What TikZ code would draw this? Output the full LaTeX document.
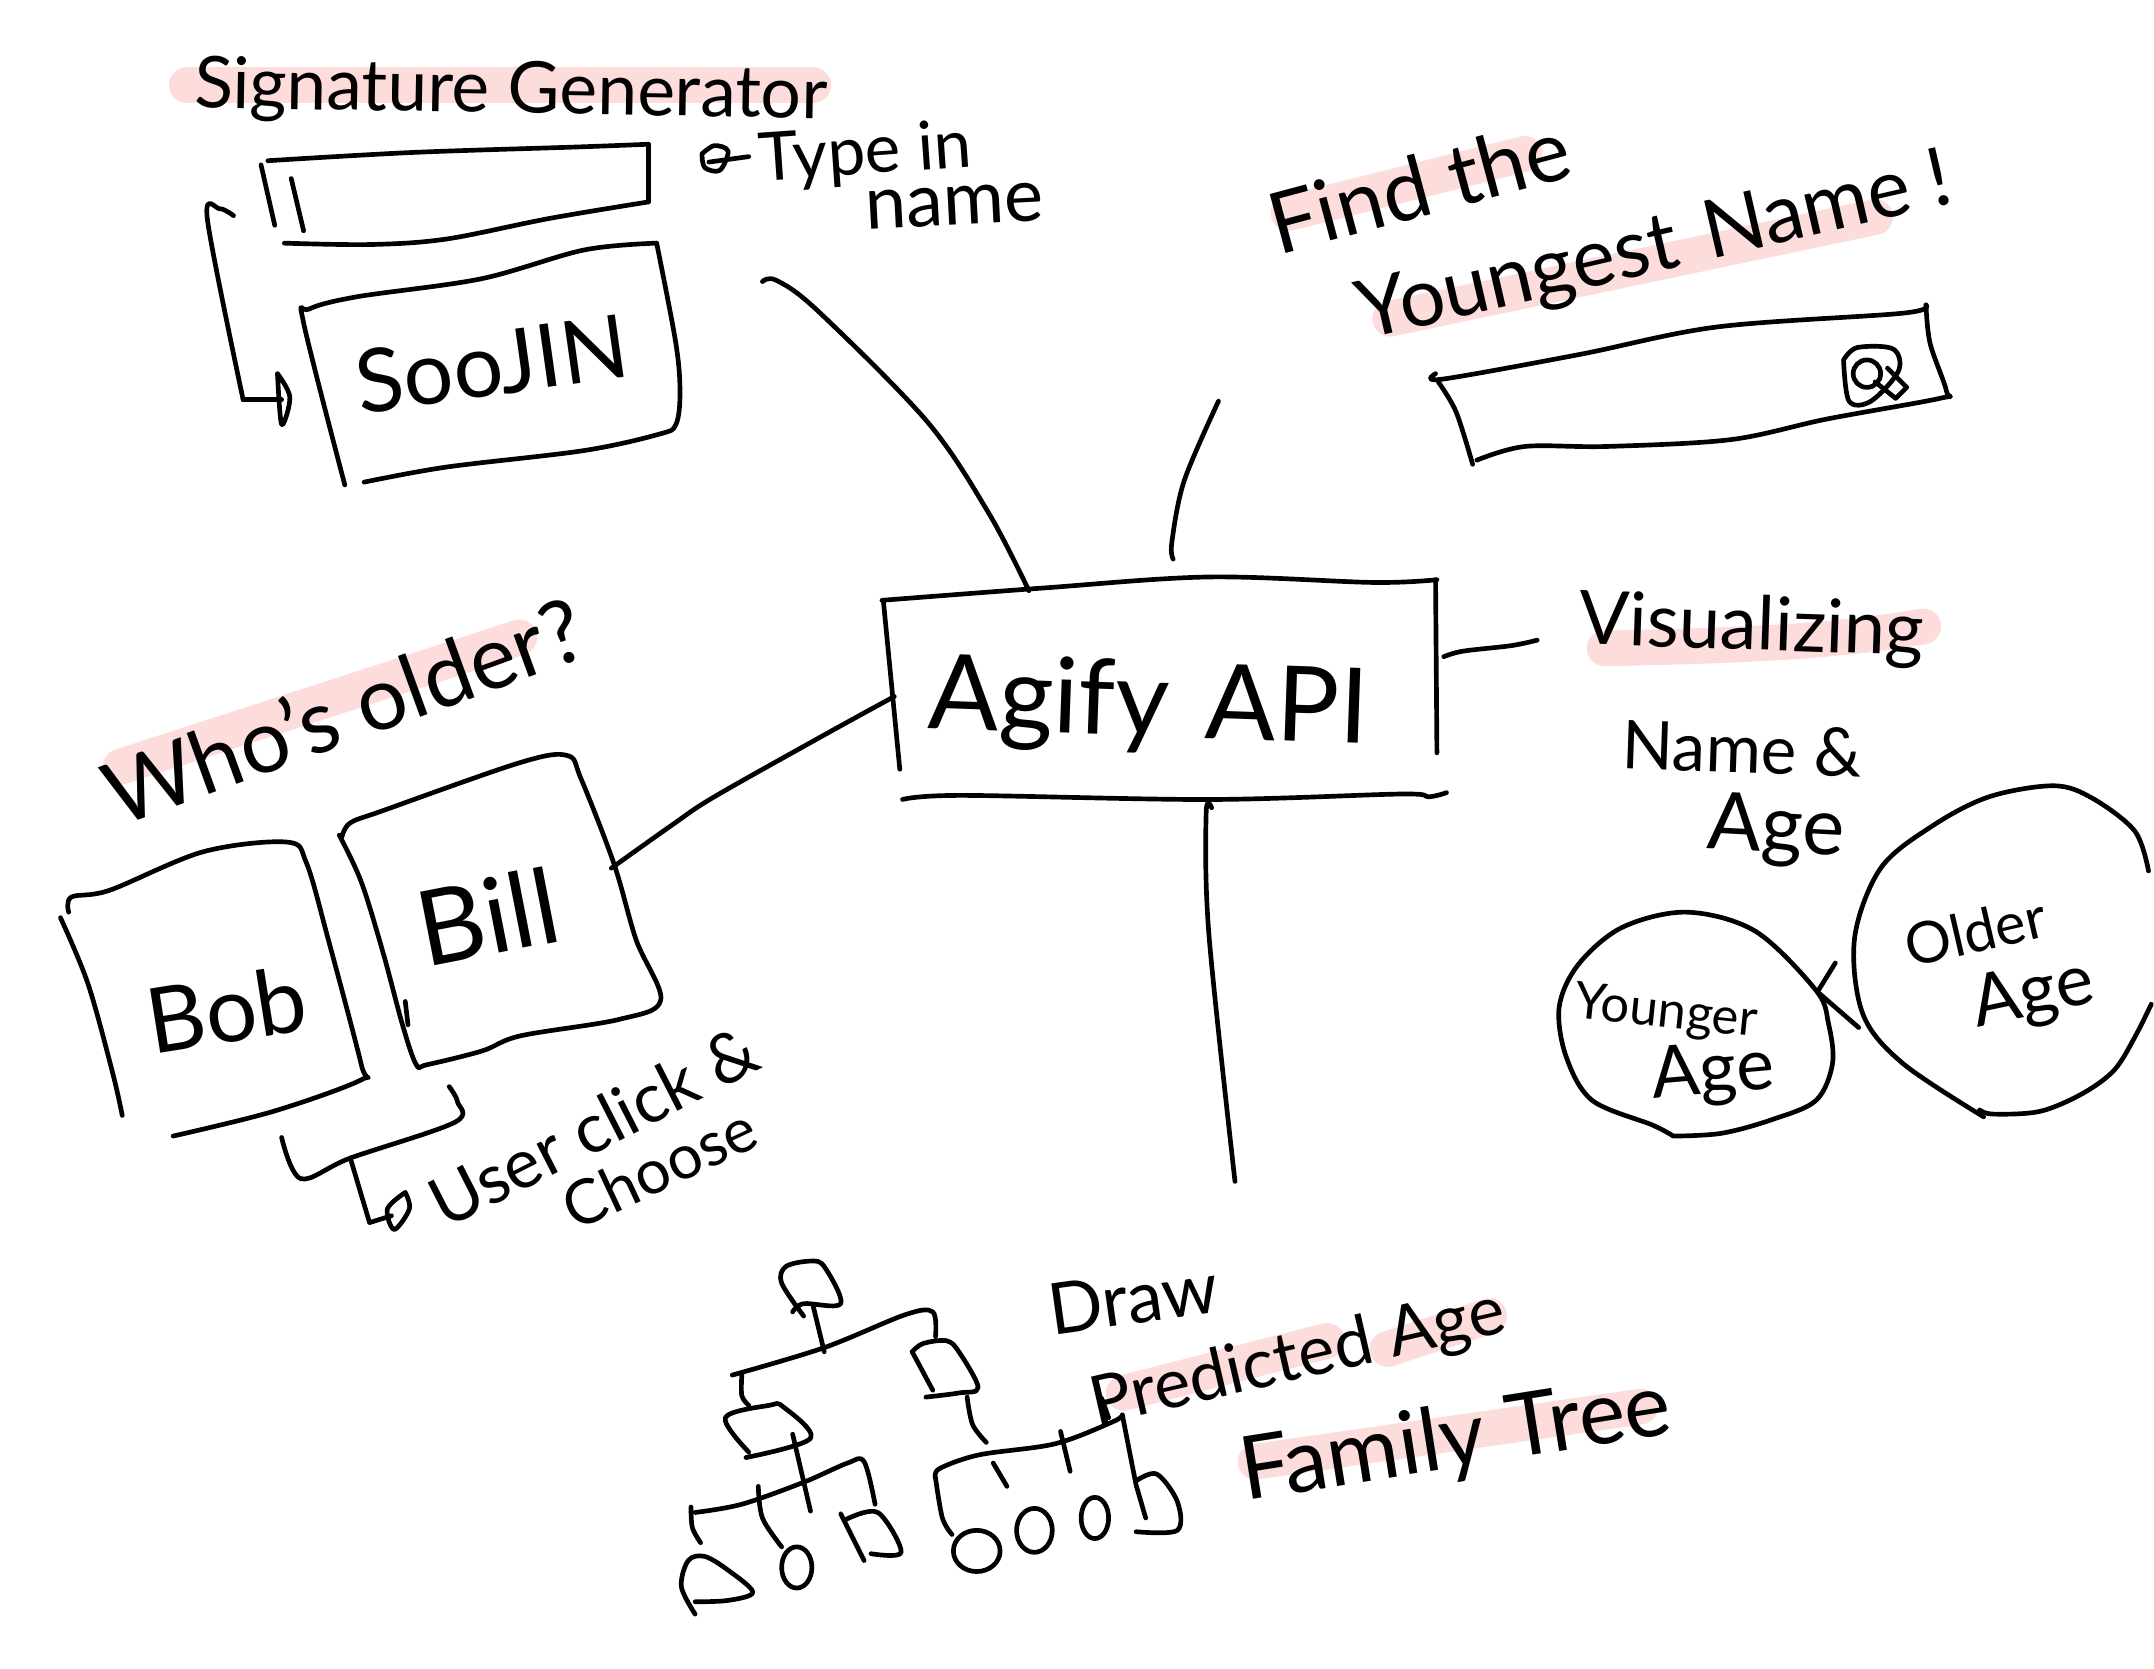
\documentclass[tikz,border=0pt]{standalone}
\usepackage{fontspec}
\setmainfont{Lato}
\definecolor{hlpink}{HTML}{FDDCDC}
\newcommand{\inkline}[1]{\draw[ink] plot[smooth,tension=.55] coordinates {#1};}
\newcommand{\fs}[1]{\fontsize{#1}{#1}\selectfont}
\tikzset{
  ink/.style={black,line width=1.7pt,line cap=round,line join=round},
  hl/.style={hlpink,line width=13pt,line cap=round},
  hand/.style={inner sep=0pt,text=black,align=center},
}
\begin{document}
\begin{tikzpicture}[x=0.5pt,y=-0.5pt]
\useasboundingbox (0,0) rectangle (1568,1214.3);
% highlights
\draw[hl] (136,62) -- (592,62);
\draw[hl] (938,155) -- (1110,112);
\draw[hl] (1012,232) -- (1365,158);
\draw[hl] (1168,472) .. controls (1260,470) and (1330,468) .. (1400,456);
\draw[hl] (88,558) -- (378,464);
\draw[hl] (818,1014) -- (966,976);
\draw[hl] (1010,982) -- (1084,958);
\draw[hl] (914,1064) -- (1194,1024);
% --- Signature generator
\node[hand,rotate=-1] (sig) at (372,68) {\fs{26}Signature Generator};
\node[hand,rotate=4] (type) at (630,113) {\fs{24.5}Type in};
\node[hand,rotate=3] (nm) at (695,150) {\fs{27}name};
\node[hand,rotate=8] (soo) at (358,265) {\fs{32}SooJIN};
\inkline{(195,117) (300,111) (420,107) (472,105)}
\draw[ink] (472,105) -- (472,147);
\inkline{(472,147) (400,159) (325,174) (270,178) (207,177)}
\draw[ink] (190,120) -- (200,164);
\draw[ink] (212,130) -- (221,168);
\inkline{(170,157) (160,152) (151,160) (177,291)}
\draw[ink] (177,291) -- (205,291);
\inkline{(202,272) (211,289) (205,309) (202,272)}
\inkline{(478,177) (425,182) (350,203) (260,216) (225,225) (221,235) (251,353)}
\inkline{(478,177) (492,250) (495,286) (492,309) (480,316) (425,328) (325,340) (265,351)}
\inkline{(511,112) (520,106) (530,110) (524,124) (513,122) (511,112)}
\draw[ink] (516,118) -- (545,114);
% --- Agify
\node[hand,rotate=-2] (agify) at (836,515) {\fs{38}Agify\hspace{.35em}API};
\inkline{(642,437) (760,428) (880,420) (1000,424) (1046,422)}
\draw[ink] (643,437) -- (655,560);
\draw[ink] (1045,422) -- (1046,548);
\inkline{(657,582) (700,579) (880,582) (1020,578) (1040,580) (1053,577)}
\coordinate (a1) at (555,205);
\coordinate (a2) at (749,430);
\inkline{(a1) (565,204) (595,226) (675,307) (720,374) (a2)}
\coordinate (b1) at (887,292);
\coordinate (b2) at (854,407);
\inkline{(b1) (862,350) (853,395) (b2)}
\coordinate (c1) at (1051,478);
\coordinate (c2) at (1119,466);
\inkline{(c1) (1065,474) (1100,470) (c2)}
\coordinate (d1) at (882,588);
\coordinate (d2) at (899,860);
\inkline{(d1) (878,592) (880,680) (d2)}
\coordinate (e1) at (651,507);
\coordinate (e2) at (445,632);
\inkline{(e1) (600,535) (520,580) (490,600) (e2)}
% --- Find the youngest name
\node[hand,rotate=15] (find) at (1033,135) {\fs{31}Find the};
\node[hand,rotate=13] (young) at (1205,182) {\fs{29.5}Youngest\hspace{.35em}Name\hspace{.25em}!};
\inkline{(1045,272) (1050,276) (1150,258) (1250,238) (1385,228) (1402,222)}
\inkline{(1402,222) (1405,250) (1417,285) (1412,290) (1330,305) (1260,320) (1170,325) (1110,325) (1075,335)}
\inkline{(1047,278) (1060,300) (1072,338)}
\inkline{(1342,262) (1352,253) (1378,254) (1382,270) (1362,292) (1346,292) (1342,262)}
\draw[ink] (1359,272) circle[radius=10];
\draw[ink] (1365,278) -- (1380,290) -- (1388,282) -- (1374,268);
% --- Visualizing
\node[hand,rotate=-2] (vis) at (1275,458) {\fs{27}Visualizing};
\node[hand,rotate=-2] (name2) at (1268,545) {\fs{24.5}Name \&};
\node[hand,rotate=-3] (age0) at (1293,605) {\fs{29}Age};
\inkline{(1564,634) (1554,605) (1523,581) (1495,572) (1448,580) (1407,601) (1369,632) (1350,683) (1356,738) (1385,774) (1444,813)}
\inkline{(1441,808) (1451,811) (1485,809) (1516,796) (1539,779) (1554,755) (1566,731)}
\inkline{(1218,827) (1253,825) (1290,815) (1322,801) (1334,774) (1331,745) (1322,721) (1278,678) (1228,664) (1181,675) (1149,702) (1135,733) (1140,769) (1159,801) (1203,819) (1218,827)}
\draw[ink] (1336,701) -- (1323,722) -- (1353,748);
\node[hand,rotate=-6] (younger) at (1213,738) {\fs{18.5}Younger};
\node[hand,rotate=5] (age1) at (1247,782) {\fs{26}Age};
\node[hand,rotate=13] (older) at (1438,678) {\fs{21}Older};
\node[hand,rotate=12] (age2) at (1480,725) {\fs{26}Age};
% --- Who's older
\node[hand,rotate=20] (who) at (250,517) {\fs{32}Who's older?};
\node[hand,rotate=9] (bob) at (165,735) {\fs{33}Bob};
\node[hand,rotate=11] (bill) at (355,667) {\fs{38}Bill};
\inkline{(50,664) (52,653) (80,648) (148,620) (209,613) (223,628) (239,684) (263,775) (263,786) (199,809) (126,827)}
\inkline{(44,668) (64,716) (82,781) (89,812)}
\inkline{(249,609) (255,599) (279,590) (379,555) (413,550) (423,567) (447,629) (463,684) (481,728) (451,742) (379,754) (351,765) (311,775) (303,775) (293,746) (279,694) (263,642) (247,608)}
\inkline{(295,729) (297,746)}
\inkline{(205,828) (219,858) (255,843) (331,817) (333,802) (327,791)}
\draw[ink] (255,843) -- (269,890) -- (285,885);
\inkline{(295,868) (282,880) (287,895) (298,880) (295,868)}
\node[hand,rotate=27] (user) at (432,820) {\fs{25}User click \&};
\node[hand,rotate=25] (choose) at (480,850) {\fs{22.5}Choose};
% --- Family tree
\node[hand,rotate=8] (draw) at (825,945) {\fs{26}Draw};
\node[hand,rotate=13] (pred) at (945,990) {\fs{25}Predicted Age};
\node[hand,rotate=9] (fam) at (1060,1050) {\fs{32}Family Tree};
\inkline{(577,955) (585,949) (612,949) (600,922) (590,918) (572,922) (569,934) (585,958)}
\draw[ink] (592,951) -- (600,984);
\inkline{(533,1001) (600,981) (659,957) (679,955) (681,973)}
\inkline{(540,1001) (540,1016) (545,1023)}
\inkline{(543,1061) (590,1047) (570,1024) (560,1023) (528,1032) (545,1057)}
\inkline{(664,984) (672,978) (689,976) (698,984) (712,1010) (698,1014) (674,1017)}
\draw[ink] (664,984) -- (679,1012);
\inkline{(704,1017) (708,1037) (718,1050)}
\draw[ink] (577,1044) -- (590,1100);
\inkline{(506,1101) (540,1095) (585,1079) (617,1065) (629,1064) (637,1095)}
\inkline{(503,1097) (504,1112) (510,1123)}
\inkline{(552,1082) (555,1105) (569,1126)}
\inkline{(681,1076) (684,1069) (713,1059) (768,1051) (810,1035) (817,1030)}
\draw[ink] (817,1030) -- (827,1081) -- (834,1105);
\inkline{(681,1076) (686,1105) (693,1117)}
\draw[ink] (723,1065) -- (733,1082);
\draw[ink] (772,1042) -- (779,1071);
\draw[ink] (802,1018) -- (807,1032);
\inkline{(506,1175) (496,1155) (501,1136) (513,1133) (530,1143) (548,1159) (530,1165) (506,1166)}
\draw[ink] (580,1141) ellipse[x radius=11,y radius=15];
\inkline{(612,1102) (629,1136)}
\inkline{(616,1106) (639,1101) (656,1130) (634,1131)}
\draw[ink] (711,1129) ellipse[x radius=17,y radius=15];
\draw[ink] (753,1114) ellipse[x radius=13,y radius=16];
\draw[ink] (797,1105) ellipse[x radius=10,y radius=15];
\inkline{(827,1078) (842,1073) (857,1093) (857,1114) (827,1115)}
\end{tikzpicture}
\end{document}
